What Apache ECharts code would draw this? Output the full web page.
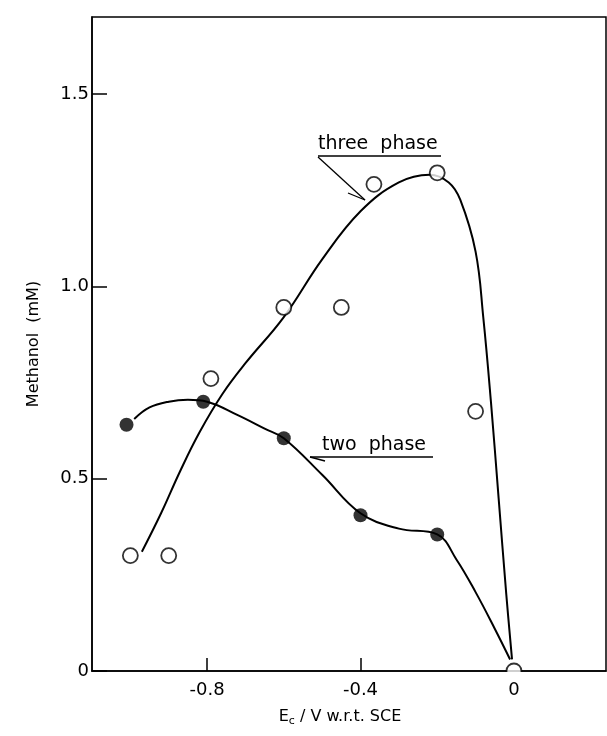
<!DOCTYPE html>
<html><head><meta charset="utf-8">
<script src="https://cdn.jsdelivr.net/npm/echarts@6/dist/echarts.min.js"></script>
<style>html,body{margin:0;padding:0;background:#fff}#c{width:607px;height:736px}</style>
</head><body><div id="c"></div>
<script>
// tick labels
const xTickValues = [-0.8, -0.4];
const xLabelValues = [-0.8, -0.4, 0];
const yTickValues = [0, 0.5, 1.0, 1.5];

// measured points
const threePhaseX = [-1.0, -0.9, -0.79, -0.6, -0.45, -0.365, -0.2, -0.1, 0.0];
const threePhaseY = [0.30, 0.30, 0.76, 0.945, 0.945, 1.265, 1.295, 0.675, 0.0];
const twoPhaseX = [-1.01, -0.81, -0.6, -0.4, -0.2];
const twoPhaseY = [0.64, 0.70, 0.605, 0.405, 0.355];

// hand-drawn fitted curves
const threeCurveX = [-0.97, -0.92, -0.87, -0.82, -0.76, -0.7, -0.6, -0.5, -0.4, -0.3, -0.22, -0.17, -0.14, -0.1, -0.08, -0.06, -0.04, -0.02, -0.005];
const threeCurveY = [0.31, 0.41, 0.52, 0.62, 0.72, 0.80, 0.92, 1.07, 1.195, 1.27, 1.29, 1.27, 1.225, 1.09, 0.92, 0.70, 0.45, 0.20, 0.03];
const twoCurveX = [-0.99, -0.95, -0.9, -0.85, -0.8, -0.72, -0.65, -0.6, -0.5, -0.4, -0.3, -0.2, -0.15, -0.1, -0.05, -0.01];
const twoCurveY = [0.655, 0.685, 0.70, 0.705, 0.70, 0.665, 0.63, 0.605, 0.51, 0.41, 0.37, 0.355, 0.29, 0.205, 0.11, 0.03];

const zip = (a, b) => a.map((v, i) => [v, b[i]]);
const FONT = 'DejaVu Sans';
const fmt = v => (Math.abs(v) < 1e-9 ? '0' : v.toFixed(1));

const chart = echarts.init(document.getElementById('c'), null, {renderer: 'canvas'});
chart.setOption({
  animation: false,
  backgroundColor: '#fff',
  grid: {left: 92, right: 1, top: 17, bottom: 65, show: true, borderColor: '#000', borderWidth: 1.5},
  xAxis: {
    type: 'value', min: -1.1, max: 0.24,
    name: '{e|E}{s|c}{n| / V w.r.t. SCE}', nameLocation: 'middle', nameGap: 36,
    nameTextStyle: {padding: [0, 18, 0, 0], rich: {
      e: {fontFamily: FONT, fontSize: 16, color: '#000'},
      s: {fontFamily: FONT, fontSize: 11, color: '#000', verticalAlign: 'bottom', padding: [9, 0, 0, 0]},
      n: {fontFamily: FONT, fontSize: 16, color: '#000'}
    }},
    axisLine: {show: true, onZero: false, lineStyle: {color: '#000', width: 1.5}},
    axisTick: {show: true, inside: true, length: 13, customValues: xTickValues, lineStyle: {color: '#000', width: 1.5}},
    axisLabel: {customValues: xLabelValues, formatter: fmt, color: '#000', fontFamily: FONT, fontSize: 18, margin: 10},
    splitLine: {show: false}
  },
  yAxis: {
    type: 'value', min: 0, max: 1.7,
    name: 'Methanol  (mM)', nameLocation: 'middle', nameGap: 50,
    nameTextStyle: {color: '#000', fontFamily: FONT, fontSize: 16},
    axisLine: {show: true, onZero: false, lineStyle: {color: '#000', width: 1.5}},
    axisTick: {show: true, inside: true, length: 15, customValues: yTickValues, lineStyle: {color: '#000', width: 1.5}},
    axisLabel: {customValues: yTickValues, formatter: fmt, color: '#000', fontFamily: FONT, fontSize: 18, margin: 3},
    splitLine: {show: false}
  },
  series: [
    {type: 'line', data: zip(threeCurveX, threeCurveY), smooth: 0.4, showSymbol: false, symbol: 'none',
     lineStyle: {color: '#000', width: 2}, z: 2},
    {type: 'line', data: zip(twoCurveX, twoCurveY), smooth: 0.4, showSymbol: false, symbol: 'none',
     lineStyle: {color: '#000', width: 2}, z: 2},
    {type: 'scatter', data: zip(threePhaseX, threePhaseY), symbol: 'circle', symbolSize: 15, clip: false,
     itemStyle: {color: '#fff', borderColor: '#000', borderWidth: 1.8}, z: 5},
    {type: 'scatter', data: zip(twoPhaseX, twoPhaseY), symbol: 'circle', symbolSize: 14, clip: false,
     itemStyle: {color: '#000', borderColor: '#000', borderWidth: 0}, z: 5}
  ],
  graphic: [
    {type: 'rect', shape: {x: 500, y: 672, width: 26, height: 9}, style: {fill: '#fff'}, z: 100, silent: true},
    {type: 'text', style: {x: 318, y: 154, text: 'three  phase', font: '19px "DejaVu Sans"', fill: '#000', verticalAlign: 'bottom'}, z: 50},
    {type: 'line', shape: {x1: 318, y1: 156, x2: 441, y2: 156}, style: {stroke: '#000', lineWidth: 1.5}, z: 50},
    {type: 'line', shape: {x1: 318, y1: 157, x2: 365, y2: 200}, style: {stroke: '#000', lineWidth: 1.3}, z: 50},
    {type: 'line', shape: {x1: 348, y1: 193, x2: 365, y2: 200}, style: {stroke: '#000', lineWidth: 1.3}, z: 50},
    {type: 'text', style: {x: 322, y: 455, text: 'two  phase', font: '19px "DejaVu Sans"', fill: '#000', verticalAlign: 'bottom'}, z: 50},
    {type: 'line', shape: {x1: 310, y1: 457, x2: 433, y2: 457}, style: {stroke: '#000', lineWidth: 1.5}, z: 50},
    {type: 'line', shape: {x1: 310, y1: 457, x2: 325, y2: 461}, style: {stroke: '#000', lineWidth: 1.3}, z: 50}
  ]
});
</script></body></html>
